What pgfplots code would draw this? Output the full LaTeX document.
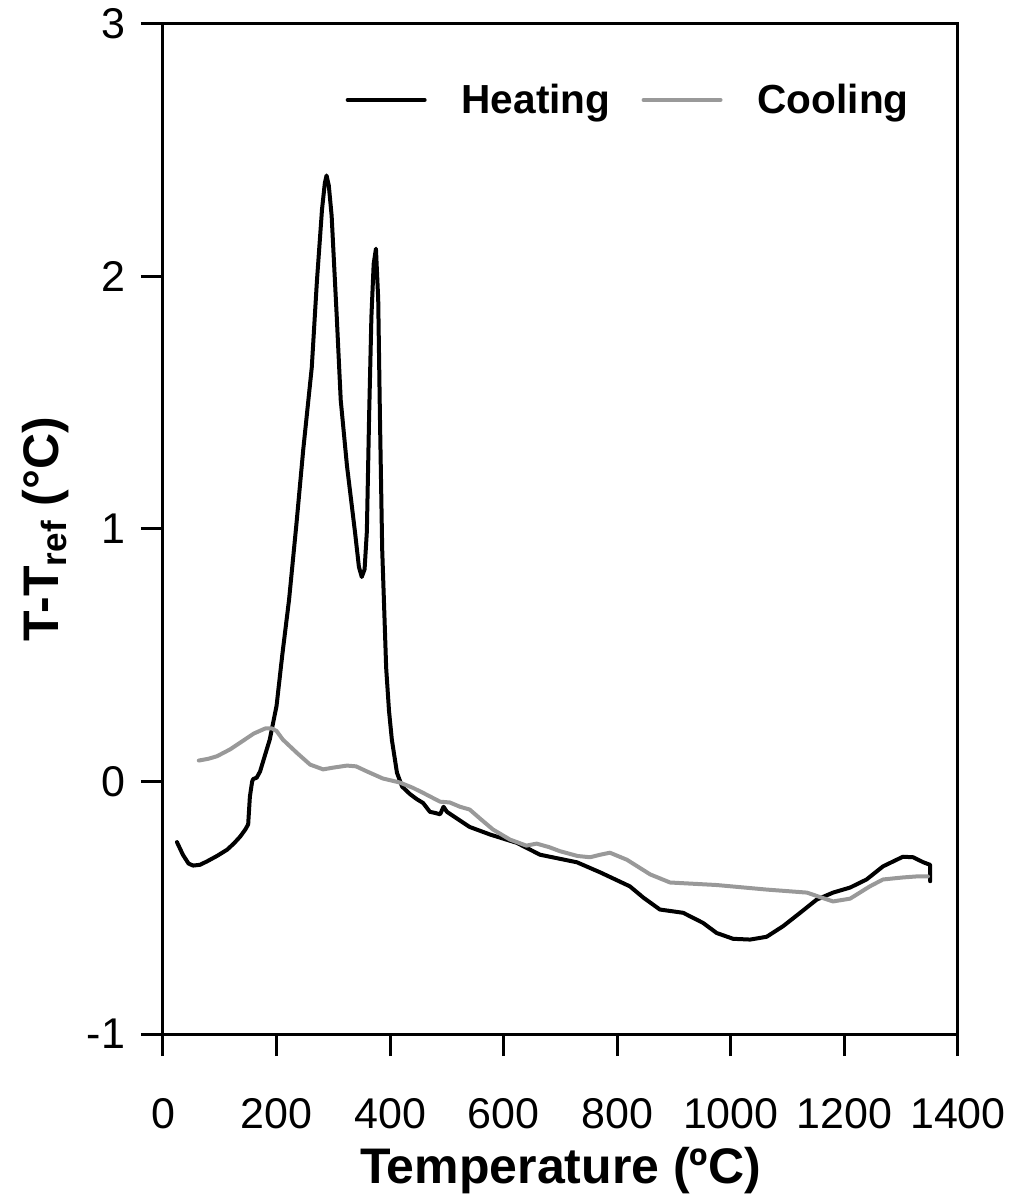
\documentclass[border=0pt]{standalone}
\usepackage{pgfplots}
\pgfplotsset{compat=1.18}
\usepackage{fontspec}
\setmainfont{Liberation Sans}
\definecolor{coolgray}{HTML}{999999}
\begin{document}
\begin{tikzpicture}
\begin{axis}[
  scale only axis, width=397.5pt, height=505pt,
  xmin=0, xmax=1400, ymin=-1, ymax=3,
  xtick={0,200,...,1400}, ytick={-1,0,1,2,3},
  xtick pos=left, ytick pos=left,
  tick align=outside, major tick length=11pt,
  axis line style={line width=1.5pt}, tick style={line width=1.5pt, black},
  ticklabel style={font=\fontsize{21.5}{26}\selectfont},
  /pgf/number format/assume math mode=true,
  /pgf/number format/1000 sep={},
  xticklabel style={anchor=center, yshift=-29pt},
  yticklabel style={anchor=east, xshift=-4.5pt},
  xlabel={\textbf{Temperature (ºC)}},
  ylabel={\textbf{T-T\textsubscript{ref} (°C)}},
  label style={font=\fontsize{25}{30}\selectfont},
  xlabel style={at={(axis description cs:0.5,-0.1355)}, anchor=center},
  ylabel style={at={(axis description cs:-0.148,0.5)}, anchor=center},
  legend style={draw=none, fill=none, at={(rel axis cs:0.951,0.9248)}, anchor=east,
    font=\bfseries\fontsize{20.3}{24}\selectfont, legend columns=2,
    /tikz/every odd column/.append style={column sep=15.5pt},
    /tikz/every even column/.append style={column sep=13.5pt}},
  legend image code/.code={\draw[#1] (0pt,0pt) -- (38.5pt,0pt);},
  every axis plot/.append style={line join=round, line cap=round},
]
\addplot[black, line width=2pt] coordinates {
(24.6,-0.24) (35,-0.29) (45,-0.325) (53,-0.333) (65,-0.33) (77,-0.317) (95,-0.295) (113,-0.27) (125,-0.245) (136,-0.218) (145,-0.19) (150,-0.17) (153,-0.06) (157,0.0) (159,0.01) (165,0.015) (171,0.04) (180,0.107) (188,0.166) (200,0.3) (210,0.5) (222,0.72) (235,1.02) (247,1.315) (262,1.64) (271,1.98) (280,2.265) (285,2.37) (288,2.40) (292,2.36) (297,2.24) (306,1.84) (313,1.51) (324,1.25) (338,0.99) (345,0.85) (350,0.81) (355,0.84) (359,0.99) (363,1.45) (367,1.84) (371,2.05) (375,2.11) (379,1.91) (382,1.45) (386,0.92) (389,0.72) (393,0.45) (398,0.28) (403,0.166) (412,0.035) (421,-0.02) (435,-0.05) (447,-0.07) (458,-0.085) (470,-0.12) (480,-0.125) (488,-0.13) (494,-0.1) (500,-0.12) (520,-0.15) (540,-0.18) (576,-0.21) (623,-0.243) (664,-0.29) (729,-0.32) (770,-0.36) (822,-0.415) (846,-0.46) (875,-0.507) (916,-0.52) (951,-0.56) (975,-0.6) (1004,-0.623) (1034,-0.626) (1063,-0.615) (1092,-0.573) (1122,-0.52) (1151,-0.468) (1180,-0.44) (1210,-0.42) (1239,-0.388) (1268,-0.336) (1303,-0.298) (1321,-0.30) (1339,-0.32) (1351,-0.33) (1351,-0.395)
};
\addlegendentry{Heating}
\addplot[coolgray, line width=2pt] coordinates {
(63,0.083) (80,0.09) (95,0.1) (118,0.127) (136,0.154) (160,0.19) (180,0.21) (192,0.21) (200,0.2) (211,0.166) (236,0.113) (259,0.067) (282,0.048) (300,0.055) (324,0.063) (340,0.06) (359,0.04) (387,0.012) (417,-0.004) (440,-0.025) (458,-0.045) (488,-0.08) (505,-0.083) (523,-0.1) (540,-0.111) (560,-0.15) (581,-0.19) (611,-0.23) (640,-0.254) (658,-0.246) (680,-0.26) (699,-0.276) (730,-0.295) (752,-0.30) (770,-0.29) (787,-0.282) (817,-0.31) (858,-0.368) (893,-0.40) (975,-0.41) (1063,-0.428) (1134,-0.44) (1160,-0.46) (1180,-0.475) (1210,-0.464) (1245,-0.415) (1268,-0.388) (1303,-0.38) (1327,-0.376) (1347,-0.376)
};
\addlegendentry{Cooling}
\end{axis}
\pgfresetboundingbox
\path[use as bounding box] (-81.5pt,-83.5pt) rectangle (422.5pt,517pt);
\end{tikzpicture}
\end{document}
